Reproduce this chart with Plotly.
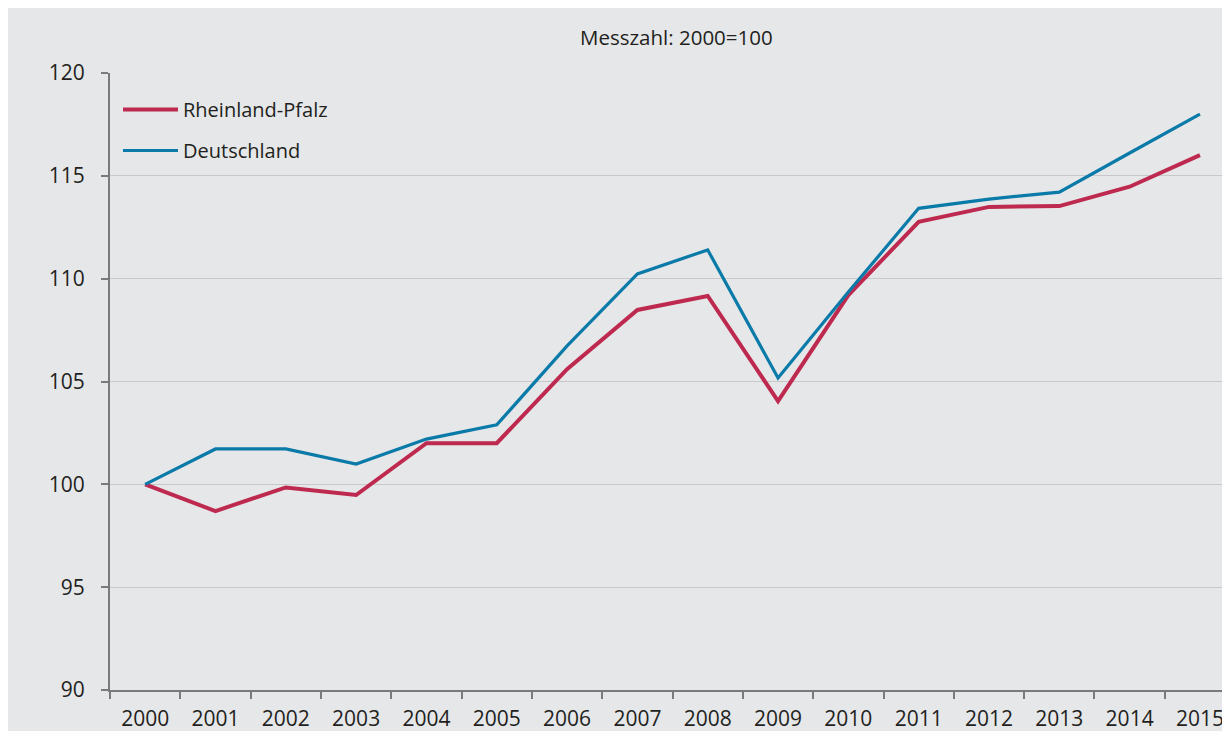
import plotly.graph_objects as go

years = [str(y) for y in range(2000, 2016)]
rheinland_pfalz = [100.0, 98.7, 99.85, 99.48, 102.0, 102.0, 105.6, 108.48, 109.16,
                   104.05, 109.2, 112.76, 113.49, 113.53, 114.47, 116.01]
deutschland = [100.0, 101.72, 101.72, 100.99, 102.2, 102.89, 106.73, 110.23, 111.4,
               105.17, 109.35, 113.42, 113.87, 114.21, 116.11, 118.0]
y_ticks = [90, 95, 100, 105, 110, 115, 120]
title_text = "Messzahl: 2000=100"

FONT = "Open Sans"
TXT = "#231f20"
BG = "#e6e7e9"

fig = go.Figure()
fig.add_trace(go.Scatter(x=years, y=rheinland_pfalz, mode="lines", name="Rheinland-Pfalz",
                         line=dict(color="#be2a4f", width=4), legendgroup="a"))
fig.add_trace(go.Scatter(x=years, y=deutschland, mode="lines", name="Deutschland",
                         line=dict(color="#0a7aa8", width=3.2), legendgroup="b"))

# page body has an 8px offset
W, H = 1230, 731
L, R, T, B = 102, 5, 65, 49
pw = W - L - R
ph = H - T - B

fig.update_layout(
    width=W, height=H,
    margin=dict(l=L, r=R, t=T, b=B, autoexpand=False),
    paper_bgcolor=BG, plot_bgcolor=BG,
    font=dict(family=FONT, color=TXT, size=21),
    showlegend=True,
    legend=dict(x=8 / pw, y=1 - 17 / ph, xanchor="left", yanchor="top",
                bgcolor="rgba(0,0,0,0)", font=dict(size=20, color=TXT),
                traceorder="grouped", tracegroupgap=12, itemwidth=55),
    xaxis=dict(type="category", range=[-0.5, 15.47], tickson="boundaries",
               ticks="outside", ticklen=7, tickcolor="#7a7a7a", tickwidth=1.5,
               showline=True, linecolor="#7a7a7a", linewidth=2, showgrid=False,
               zeroline=False, ticklabelstandoff=9, tickfont=dict(size=21)),
    yaxis=dict(range=[90, 120], tickvals=y_ticks, ticks="outside", ticklen=7,
               tickcolor="#7a7a7a", tickwidth=1.5, showline=True, linecolor="#7a7a7a",
               linewidth=2, showgrid=True, gridcolor="#c8c8ca", gridwidth=1,
               zeroline=False, ticklabelstandoff=12, tickfont=dict(size=21)),
    annotations=[dict(text=title_text, xref="paper", yref="paper",
                      x=(676 - 8 - L) / pw, y=1 + (T + 8 - 37) / ph, xanchor="center",
                      yanchor="middle", showarrow=False, font=dict(size=20.5, color=TXT))],
)

fig.write_html("out.html")
